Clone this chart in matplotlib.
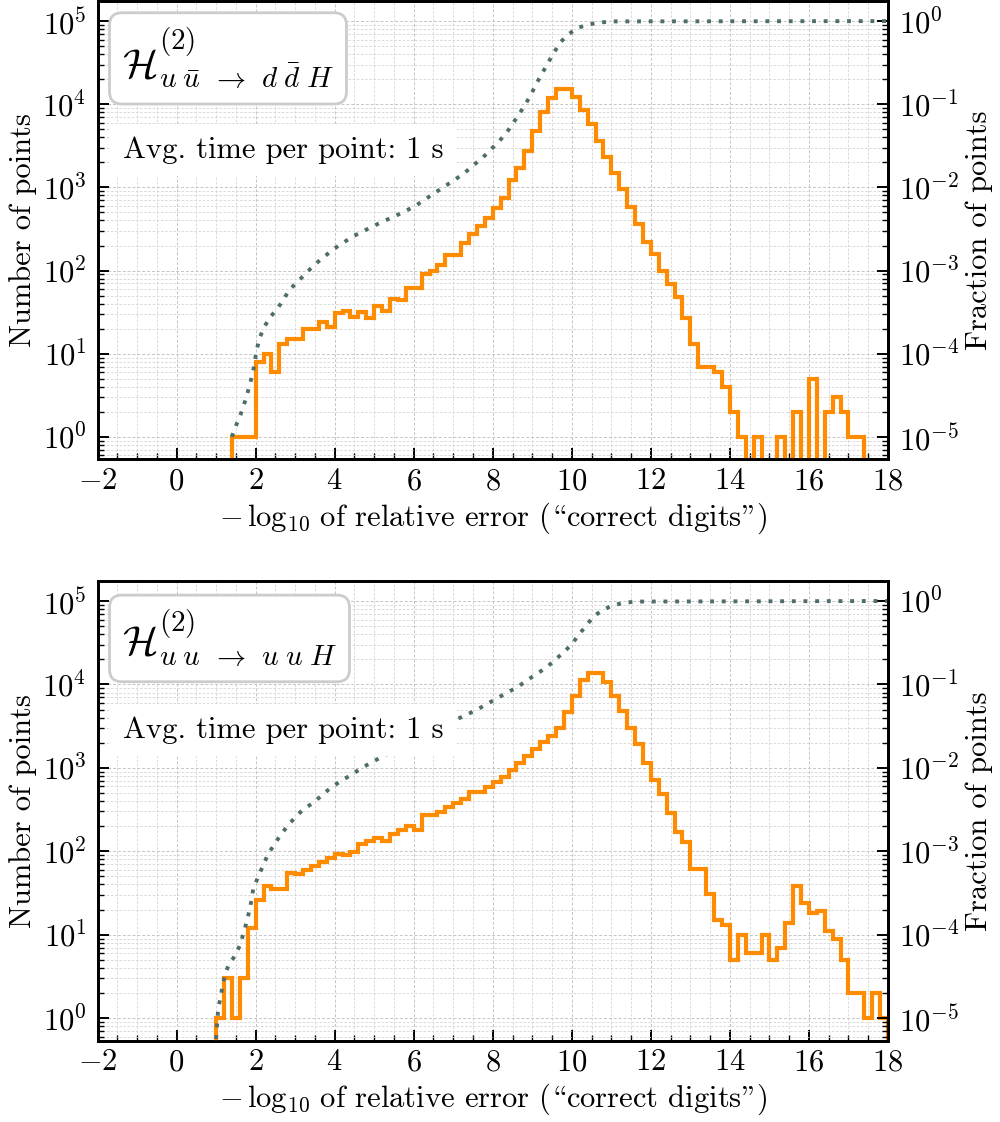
import numpy as np
import matplotlib
matplotlib.use('Agg')
from matplotlib import pyplot as plt

plt.rcParams['font.family'] = ['cmr10', 'DejaVu Serif']
plt.rcParams['mathtext.fontset'] = 'cm'
plt.rcParams['axes.formatter.use_mathtext'] = True
plt.rcParams['font.size'] = 22

N_TOTAL = 1e5
BIN_W = 0.2

# upper panel: u ubar -> d dbar H, histogram starts at 1.4
top_start = 1.4
top_counts = [1, 1, 1, 8, 10, 6, 13, 15, 15, 20,
              20, 24, 21, 31, 33, 28, 32, 27, 38, 33,
              46, 44, 61, 61, 90, 100, 116, 153, 153, 212,
              274, 342, 423, 558, 756, 1222, 1734, 2748, 4775, 8075,
              12020, 15400, 15400, 12240, 8600, 5850, 3590, 2330, 1470, 970,
              584, 368, 222, 158, 99, 69, 48, 27, 13, 7,
              7, 6, 4, 2, 1, 0, 1, 0, 0, 1,
              0, 2, 0, 5, 0, 2, 3, 2, 1, 1]
# cumulative (dotted), x and log10(count)
top_cum_x = [1.4, 1.47, 1.6, 1.77, 1.93, 2.03, 2.1, 2.23, 2.35, 2.55,
             2.7, 2.86, 3.07, 3.28, 3.49, 3.72, 3.95, 4.2, 4.46, 4.71,
             4.96, 5.22, 5.51, 5.76, 6.02, 6.3, 6.52, 6.78, 7.03, 7.28,
             7.49, 7.73, 7.94, 8.15, 8.34, 8.51, 8.68, 8.84, 8.98, 9.13,
             9.26, 9.4, 9.55, 9.7, 9.91, 10.16, 10.43, 10.74, 11.05, 18.0]
top_cum_log = [0.0, 0.1, 0.24, 0.48, 0.77, 1.05, 1.19, 1.33, 1.43, 1.54,
               1.65, 1.77, 1.87, 1.97, 2.07, 2.16, 2.25, 2.33, 2.41, 2.47,
               2.53, 2.59, 2.65, 2.71, 2.77, 2.86, 2.93, 3.01, 3.09, 3.17,
               3.26, 3.35, 3.45, 3.55, 3.65, 3.77, 3.89, 4.01, 4.13, 4.27,
               4.38, 4.5, 4.62, 4.74, 4.84, 4.92, 4.96, 4.984, 4.996, 5.0]

# lower panel: u u -> u u H, histogram starts at 1.0
bot_start = 1.0
bot_counts = [1, 3, 1, 3, 12, 26, 38, 35, 35, 55,
              53, 60, 67, 75, 84, 93, 89, 99, 121, 134,
              146, 134, 160, 180, 201, 180, 273, 273, 299, 344,
              384, 421, 520, 520, 588, 668, 775, 949, 1141, 1397,
              1682, 2019, 2432, 3008, 4634, 7215, 11240, 13780, 13780, 10740,
              7360, 4765, 3008, 1949, 1141, 719, 488, 291, 172, 130,
              62, 61, 31, 15, 13, 5, 10, 6, 6, 10,
              5, 7, 14, 38, 24, 18, 19, 11, 9, 5,
              2, 2, 1, 2, 1]
bot_cum_x = [1.0, 1.05, 1.11, 1.22, 1.31, 1.48, 1.6, 1.69, 1.8, 1.9,
             1.94, 2.07, 2.32, 2.61, 2.8, 2.99, 3.22, 3.46, 3.67, 3.9,
             4.15, 4.4, 4.66, 4.91, 5.19, 6.1, 7.0, 7.3, 7.58, 7.83,
             8.1, 8.35, 8.6, 8.84, 9.09, 9.35, 9.57, 9.78, 10.0, 10.18,
             10.36, 10.54, 10.77, 11.05, 11.34, 11.64, 18.0]
bot_cum_log = [-0.25, 0.09, 0.25, 0.51, 0.63, 0.75, 0.87, 1.01, 1.2, 1.42,
               1.55, 1.7, 1.97, 2.18, 2.3, 2.4, 2.51, 2.58, 2.67, 2.76,
               2.84, 2.91, 2.99, 3.06, 3.13, 3.36, 3.56, 3.63, 3.69, 3.76,
               3.83, 3.9, 3.96, 4.04, 4.12, 4.2, 4.29, 4.38, 4.48, 4.6,
               4.7, 4.81, 4.89, 4.95, 4.98, 4.993, 5.0]

panels = [
    (top_start, top_counts, top_cum_x, top_cum_log,
     r'$\mathcal{H}^{(2)}_{u\;\bar{u}\;\,\to\;\,d\;\bar{d}\;H}$'),
    (bot_start, bot_counts, bot_cum_x, bot_cum_log,
     r'$\mathcal{H}^{(2)}_{u\;u\;\,\to\;\,u\;u\;H}$'),
]

orange = '#ff8c00'
slate = '#4f6e6b'
ylo, yhi = 10**-0.27, 10**5.24
# cmr10 uses TeX positions: '\\' -> left double quote, '"' -> right double quote
xlab = r'$-\,\log_{10}\,$of relative error (' + '\\' + 'correct digits' + '"' + ')'

fig = plt.figure(figsize=(10, 11.22), dpi=100)
rects = [[0.0975, 0.5906, 0.7905, 0.4084], [0.0975, 0.0725, 0.7905, 0.4097]]

for rect, (start, counts, cx, clog, title) in zip(rects, panels):
    ax = fig.add_axes(rect)
    ax2 = ax.twinx()
    counts = np.array(counts, dtype=float)
    edges = start + BIN_W * np.arange(len(counts) + 1)

    ax.stairs(counts, edges, color=orange, lw=3.0, baseline=0, zorder=3)
    ax.set_yscale('log')
    ax.set_ylim(ylo, yhi)
    ax.set_xlim(-2, 18)
    ax.set_xticks(np.arange(-2, 19, 2))
    ax.set_xticks(np.arange(-2, 18.01, 0.5), minor=True)
    ax.grid(which='major', ls=(0, (3, 2)), color='#c4c4c4', lw=0.7)
    ax.grid(which='minor', ls=(0, (3, 2)), color='#d4d4d4', lw=0.6)
    ax.set_ylabel('Number of points')
    ax.set_xlabel(xlab)

    frac = 10**(np.array(clog) - np.log10(N_TOTAL))
    ax2.plot(cx, frac, color=slate, lw=2.8, ls=(0, (1, 2)), zorder=2)
    ax2.set_yscale('log')
    ax2.set_ylim(ylo / N_TOTAL, yhi / N_TOTAL)
    ax2.set_ylabel('Fraction of points')

    for a in (ax, ax2):
        for s in a.spines.values():
            s.set_linewidth(2)
    ax.tick_params(which='both', direction='in', top=False, right=False)
    ax.tick_params(which='major', length=8, width=1.4)
    ax.tick_params(which='minor', length=4.5, width=1.0)
    ax.tick_params(axis='x', pad=6)
    ax.tick_params(axis='y', pad=8)
    ax2.tick_params(which='both', direction='in')
    ax2.tick_params(which='major', length=8, width=1.4, pad=8)
    ax2.tick_params(which='minor', length=4.5, width=1.0)

    ax2.text(0.031, 0.875, title, transform=ax.transAxes, fontsize=30,
             ha='left', va='center', zorder=10,
             bbox=dict(boxstyle='round,pad=0.3', fc='white', ec='#cccccc', lw=2))
    ax2.text(0.032, 0.675, 'Avg. time per point: 1 s', transform=ax.transAxes,
             ha='left', va='center', zorder=10,
             bbox=dict(boxstyle='square,pad=0.4', fc='white', ec='none'))

plt.savefig('out.png', dpi=100)
